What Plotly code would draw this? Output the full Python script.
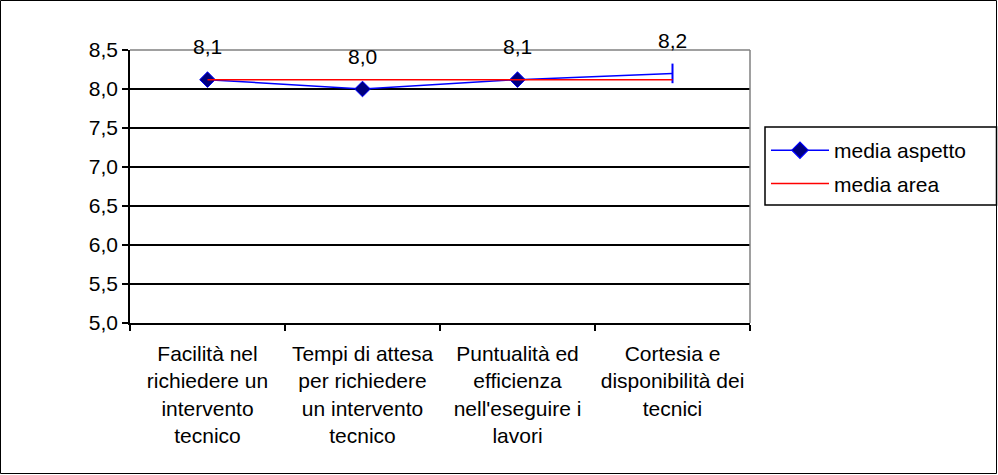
import plotly.graph_objects as go

categories = [
    "Facilità nel<br>richiedere un<br>intervento<br>tecnico",
    "Tempi di attesa<br>per richiedere<br>un intervento<br>tecnico",
    "Puntualità ed<br>efficienza<br>nell'eseguire i<br>lavori",
    "Cortesia e<br>disponibilità dei<br>tecnici",
]
media_aspetto = [8.12, 8.0, 8.12, 8.2]
media_area = [8.12, 8.12, 8.12, 8.12]
y_ticks = [5.0, 5.5, 6.0, 6.5, 7.0, 7.5, 8.0, 8.5]

FONT = "Liberation Sans, Arial, sans-serif"
FS = 21

fig = go.Figure()
fig.add_trace(go.Scatter(
    x=categories, y=media_aspetto, name="media aspetto", mode="lines+markers",
    legendgroup="a",
    line=dict(color="#0000FF", width=1.5),
    marker=dict(symbol=["diamond", "diamond", "diamond", "line-ns"], size=[12, 12, 12, 14],
                color="#000080", opacity=1, line=dict(color="#0000FF", width=[1, 1, 1, 2])),
))
fig.add_trace(go.Scatter(
    x=categories, y=media_area, name="media area", mode="lines",
    legendgroup="b",
    line=dict(color="#FF0000", width=1.5),
))

annotations = []
for c, v in zip(categories, media_aspetto):
    annotations.append(dict(
        x=c, y=v, xref="x", yref="y", text=f"{v:.1f}".replace(".", ","),
        showarrow=False, yshift=33, font=dict(size=FS, color="black", family=FONT),
    ))

L, R, T, B = 130, 248, 50, 152
W, H = 998, 475
pw, ph = W - L - R, H - T - B

def px_x(x):
    return (x - L) / pw

def px_y(y):
    return (H - B - y) / ph

shapes = [
    dict(type="line", xref="paper", yref="paper", x0=0, x1=1, y0=1, y1=1,
         line=dict(color="#808080", width=1.5), layer="above"),
    dict(type="line", xref="paper", yref="paper", x0=1, x1=1, y0=0, y1=1,
         line=dict(color="#808080", width=1.5), layer="above"),
    dict(type="rect", xref="paper", yref="paper",
         x0=px_x(0.5), x1=px_x(W - 1.5), y0=px_y(H - 1.5), y1=px_y(0.5),
         line=dict(color="black", width=1), layer="above"),
    dict(type="rect", xref="paper", yref="paper",
         x0=px_x(765), x1=px_x(996.5), y0=px_y(205), y1=px_y(127),
         line=dict(color="black", width=1.5), layer="above"),
]

fig.update_layout(
    width=W, height=H, margin=dict(l=L, r=R, t=T, b=B),
    paper_bgcolor="white", plot_bgcolor="white",
    separators=",.",
    font=dict(family=FONT, size=FS, color="black"),
    xaxis=dict(type="category", range=[-0.5, 3.5], tickson="boundaries",
               ticks="outside", ticklen=6, tickcolor="black", tickwidth=1.5,
               showline=True, linecolor="black", linewidth=1.5, showgrid=False,
               tickfont=dict(size=FS, family=FONT, color="black"), ticklabelstandoff=11),
    yaxis=dict(range=[5.0, 8.5], tickvals=y_ticks, tickformat=".1f",
               ticks="outside", ticklen=6, tickcolor="black", tickwidth=1.5,
               showline=True, linecolor="black", linewidth=1.5,
               showgrid=True, gridcolor="black", gridwidth=1.5, zeroline=False,
               tickfont=dict(size=FS, family=FONT, color="black")),
    showlegend=True,
    legend=dict(x=px_x(766), y=px_y(130), xanchor="left", yanchor="top",
                borderwidth=0, bgcolor="rgba(0,0,0,0)",
                font=dict(size=FS, family=FONT, color="black"),
                tracegroupgap=3, itemwidth=58),
    annotations=annotations,
    shapes=shapes,
)

fig.write_html("out.html")
